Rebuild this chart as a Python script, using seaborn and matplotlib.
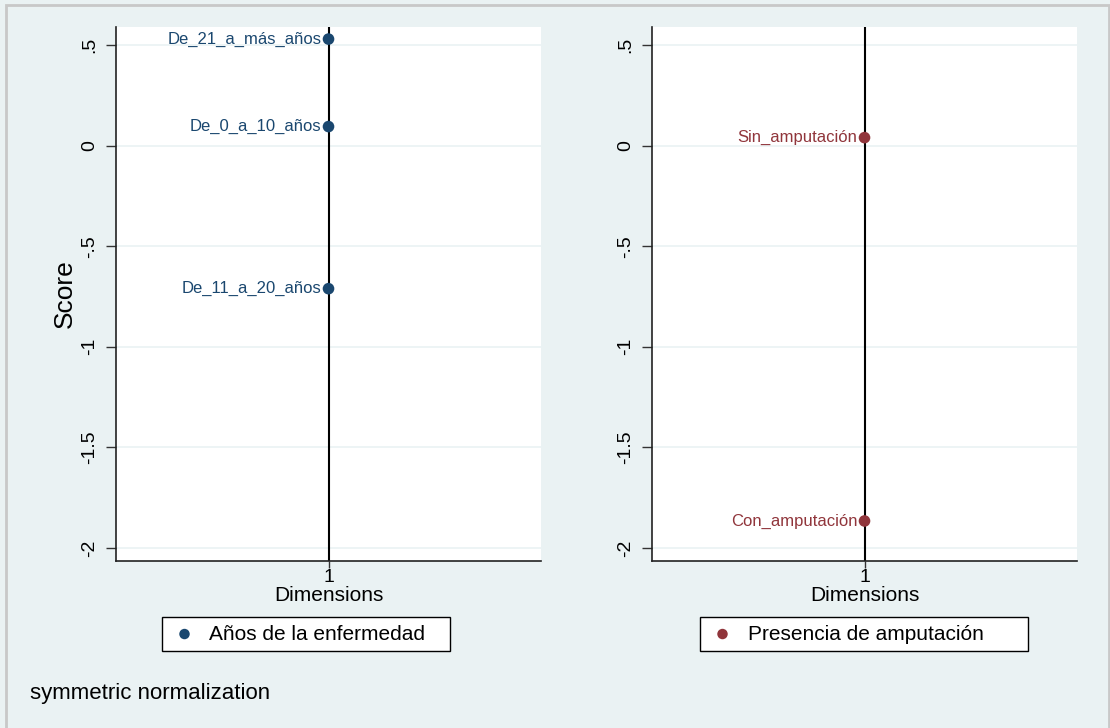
import matplotlib
matplotlib.use("Agg")
import matplotlib.pyplot as plt
import seaborn as sns
import pandas as pd
from matplotlib.patches import Rectangle

# MCA coordinates, dimension 1
anos_labels = ["De_21_a_más_años", "De_0_a_10_años", "De_11_a_20_años"]
anos_scores = [0.53, 0.095, -0.711]
amp_labels = ["Sin_amputación", "Con_amputación"]
amp_scores = [0.04, -1.866]
dims = [1]

y_ticks = [0.5, 0, -0.5, -1, -1.5, -2]
y_tick_labels = [".5", "0", "-.5", "-1", "-1.5", "-2"]

BG = "#EAF2F3"
BLUE = "#1a476f"
RED = "#90353b"

sns.set_style("white")
plt.rcParams["font.family"] = ["Liberation Sans", "DejaVu Sans"]
plt.rcParams["text.color"] = "black"
plt.rcParams["axes.labelcolor"] = "black"

fig = plt.figure(figsize=(11.1, 7.28), dpi=100, facecolor=BG)
fig.patches.append(Rectangle((0.005, -0.01), 0.994, 1.003, transform=fig.transFigure,
                             fill=False, edgecolor="#c8c8c8", lw=2))

# (axes left, labels, scores, colour, legend name, legend box x0, legend box width) in px
panels = [
    (116, anos_labels, anos_scores, BLUE, "Años de la enfermedad", 162, 288),
    (652, amp_labels, amp_scores, RED, "Presencia de amputación", 700, 328),
]

for i, (left, labels, scores, color, name, bx, bw) in enumerate(panels):
    ax = fig.add_axes([left / 1110, 0.2294, 0.3829, 0.7335])
    ax.set_facecolor("white")
    df = pd.DataFrame({"dim": dims * len(scores), "score": scores, "cat": labels})
    ax.axvline(1, color="black", lw=1.5, zorder=1)
    sns.scatterplot(data=df, x="dim", y="score", ax=ax, color=color, s=70,
                    edgecolor="none", label=name, zorder=3)
    for _, r in df.iterrows():
        ax.annotate(r["cat"], (r["dim"], r["score"]), xytext=(-5, 0),
                    textcoords="offset points", ha="right", va="center",
                    color=color, fontsize=12)
    ax.set_xlim(0.5, 1.5)
    ax.set_ylim(-2.065, 0.59)
    ax.set_yticks(y_ticks)
    ax.set_yticklabels(y_tick_labels, rotation=90, va="center", fontsize=14)
    ax.set_xticks([1])
    ax.set_xticklabels(["1"], fontsize=14)
    for y in y_ticks:
        ax.axhline(y, color=BG, lw=1.2, zorder=0)
    ax.tick_params(axis="y", length=7, width=1, color="#333333", labelcolor="black",
                   pad=6, left=True)
    ax.tick_params(axis="x", length=5, width=1, color="#333333", labelcolor="black",
                   pad=1, bottom=True)
    for s in ["top", "right"]:
        ax.spines[s].set_visible(False)
    for s in ["left", "bottom"]:
        ax.spines[s].set_color("#222222")
        ax.spines[s].set_linewidth(1.2)
    ax.set_xlabel("Dimensions", fontsize=15, labelpad=0)
    ax.set_ylabel("Score" if i == 0 else "", fontsize=19, labelpad=3)
    leg = ax.legend(loc="center", mode="expand",
                    bbox_to_anchor=(bx / 1110, 1 - 652 / 728, bw / 1110, 36 / 728),
                    bbox_transform=fig.transFigure, frameon=True, fancybox=False,
                    fontsize=15, handlelength=1.4, handletextpad=0.5, borderpad=0.38,
                    borderaxespad=0, markerscale=0.9, framealpha=1)
    leg.get_frame().set_edgecolor("black")
    leg.get_frame().set_facecolor("white")
    leg.get_frame().set_linewidth(1)

fig.text(30 / 1110, 1 - 693 / 728, "symmetric normalization", fontsize=16,
         va="center", ha="left")

fig.savefig("out.png", dpi=100, facecolor=BG)
